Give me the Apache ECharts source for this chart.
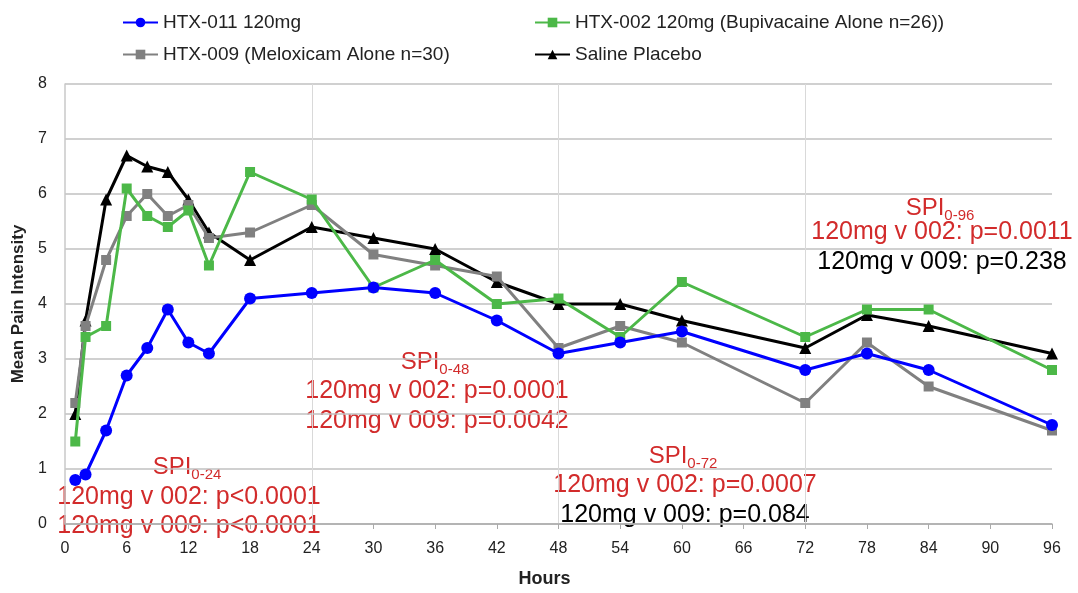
<!DOCTYPE html>
<html><head><meta charset="utf-8">
<script src="https://cdn.jsdelivr.net/npm/echarts@6/dist/echarts.min.js"></script>
<style>html,body{margin:0;padding:0;background:#fff}#c{width:1078px;height:593px}</style>
</head><body><div id="c"></div>
<script>
const hours = [1, 2, 4, 6, 8, 10, 12, 14, 18, 24, 30, 36, 42, 48, 54, 60, 72, 78, 84, 96];
const htx011 = [0.8, 0.9, 1.7, 2.7, 3.2, 3.9, 3.3, 3.1, 4.1, 4.2, 4.3, 4.2, 3.7, 3.1, 3.3, 3.5, 2.8, 3.1, 2.8, 1.8];
const htx002 = [1.5, 3.4, 3.6, 6.1, 5.6, 5.4, 5.7, 4.7, 6.4, 5.9, 4.3, 4.8, 4.0, 4.1, 3.4, 4.4, 3.4, 3.9, 3.9, 2.8];
const htx009 = [2.2, 3.6, 4.8, 5.6, 6.0, 5.6, 5.8, 5.2, 5.3, 5.8, 4.9, 4.7, 4.5, 3.2, 3.6, 3.3, 2.2, 3.3, 2.5, 1.7];
const saline = [2.0, 3.7, 5.9, 6.7, 6.5, 6.4, 5.9, 5.3, 4.8, 5.4, 5.2, 5.0, 4.4, 4.0, 4.0, 3.7, 3.2, 3.8, 3.6, 3.1];
const seriesNames = ['HTX-011 120mg', 'HTX-002 120mg (Bupivacaine Alone n=26))', 'HTX-009 (Meloxicam Alone n=30)', 'Saline Placebo'];
const annotations = [
  {sub: '0-24', l1: '120mg v 002: p<0.0001', l2: '120mg v 009: p<0.0001', c2: 'red'},
  {sub: '0-48', l1: '120mg v 002: p=0.0001', l2: '120mg v 009: p=0.0042', c2: 'red'},
  {sub: '0-72', l1: '120mg v 002: p=0.0007', l2: '120mg v 009: p=0.084', c2: 'black'},
  {sub: '0-96', l1: '120mg v 002: p=0.0011', l2: '120mg v 009: p=0.238', c2: 'black'}
];
// [centre x, title centre y, line1 centre y, line2 centre y]
const annPos = [[189, 465, 497, 526], [437, 360, 391, 421], [685, 454, 485, 515], [942, 206, 232, 262]];

const RED = '#d22b2b';
const FONT = 'Liberation Sans, Arial, sans-serif';
const colors = ['#0000ff', '#4cb848', '#808080', '#000000'];
const symbols = ['circle', 'rect', 'rect', 'triangle'];
const sizes = [12, 10, 10, 12];
const datasets = [htx011, htx002, htx009, saline];

const chart = echarts.init(document.getElementById('c'));
const legendPos = [[117, 8], [529, 8], [117, 40], [529, 40]];

const graphics = [];
annotations.forEach((a, i) => {
  const [cx, ty, y1, y2] = annPos[i];
  graphics.push({
    type: 'text', x: cx - 2, y: ty + 2,
    style: {
      text: '{m|SPI}{s|' + a.sub + '}',
      rich: {m: {fontSize: 24, fill: RED, fontFamily: FONT}, s: {fontSize: 15, fill: RED, fontFamily: FONT, padding: [16, 0, 0, 0]}},
      align: 'center', verticalAlign: 'middle'
    }
  });
  graphics.push({type: 'text', x: cx, y: y1, style: {text: a.l1, fontSize: 25, fill: RED, fontFamily: FONT, align: 'center', verticalAlign: 'middle'}});
  graphics.push({type: 'text', x: cx, y: y2, style: {text: a.l2, fontSize: 25, fill: a.c2 === 'red' ? RED : '#000', fontFamily: FONT, align: 'center', verticalAlign: 'middle'}});
});

chart.setOption({
  animation: false,
  color: colors,
  textStyle: {fontFamily: FONT},
  legend: seriesNames.map((n, i) => ({
    data: [n], left: legendPos[i][0], top: legendPos[i][1],
    itemWidth: 35, itemHeight: 12, itemGap: 2,
    textStyle: {fontSize: 19, color: '#222', fontFamily: FONT}
  })),
  grid: {left: 65, right: 26, top: 84, bottom: 69, outerBoundsMode: 'none', containLabel: false},
  xAxis: [{
    type: 'value', min: 0, max: 96, interval: 6,
    name: 'Hours', nameLocation: 'middle', nameGap: 46,
    nameTextStyle: {fontSize: 18, fontWeight: 'bold', color: '#222', padding: [0, 28, 0, 0]},
    axisLine: {lineStyle: {color: '#aaa', width: 1.5}},
    axisTick: {show: true, length: 5, lineStyle: {color: '#aaa'}},
    axisLabel: {fontSize: 16, color: '#222', margin: 17},
    splitLine: {show: false}
  }, {
    type: 'value', min: 0, max: 96, interval: 24, position: 'bottom',
    axisLine: {show: false}, axisTick: {show: false}, axisLabel: {show: false},
    splitLine: {show: true, showMinLine: false, showMaxLine: false, lineStyle: {color: '#d9d9d9', width: 1}}
  }],
  yAxis: {
    type: 'value', min: 0, max: 8, interval: 1,
    name: 'Mean Pain Intensity', nameLocation: 'middle', nameGap: 38,
    nameTextStyle: {fontSize: 17, fontWeight: 'bold', color: '#222'},
    axisLine: {show: true, lineStyle: {color: '#c8c8c8', width: 1.5}},
    axisTick: {show: false},
    axisLabel: {fontSize: 16, color: '#222', margin: 18},
    splitLine: {lineStyle: {color: '#c0c0c0', width: 1.5}}
  },
  series: datasets.map((d, i) => ({
    name: seriesNames[i], type: 'line', xAxisIndex: 0,
    data: hours.map((h, j) => [h, d[j]]),
    symbol: symbols[i], symbolSize: sizes[i], showSymbol: true,
    lineStyle: {width: 3, color: colors[i]}, itemStyle: {color: colors[i]},
    z: 10 - i
  })),
  graphic: graphics
});
</script></body></html>
